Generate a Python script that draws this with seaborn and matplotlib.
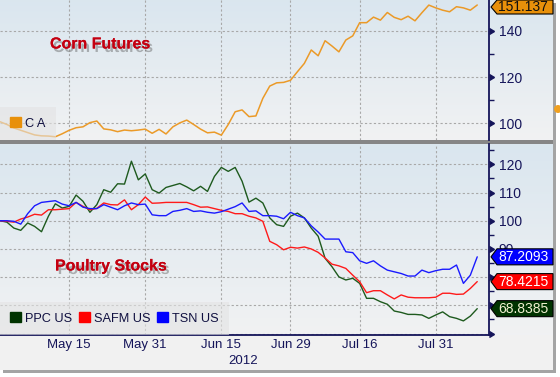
import numpy as np
import pandas as pd
import seaborn as sns
import matplotlib.pyplot as plt
import matplotlib.transforms as mtransforms
from matplotlib.patches import Rectangle, Polygon, Patch, Ellipse
from matplotlib import patheffects

# trading days, May 1 - Aug 8 2012
dates = pd.bdate_range('2012-05-01', '2012-08-08', freq='C',
                       holidays=['2012-05-28', '2012-07-04'])

corn = [100.7, 99.5, 98.0, 97.0, 96.0, 95.0, 94.6, 94.5, 94.2, 95.5,
        97.0, 98.1, 98.5, 100.3, 101.0, 97.6, 97.2, 96.4, 97.1, 96.8,
        97.1, 97.5, 95.7, 97.4, 95.4, 98.5, 100.2, 101.4, 99.5, 97.5,
        95.9, 96.2, 94.9, 99.5, 105.0, 105.8, 102.9, 103.2, 110.8, 116.1,
        117.5, 117.7, 118.6, 122.3, 125.9, 131.7, 129.2, 135.7, 133.4, 130.9,
        136.0, 137.8, 143.5, 143.5, 145.9, 144.6, 147.9, 145.8, 144.8, 146.3,
        144.3, 147.8, 151.1, 149.9, 148.9, 148.2, 150.4, 149.9, 148.9, 151.137]

ppc = [100.0, 99.5, 97.4, 96.6, 99.2, 98.0, 96.1, 101.6, 106.0, 104.5,
       105.1, 109.1, 106.9, 103.0, 105.7, 111.0, 110.1, 113.1, 113.0, 121.1,
       114.5, 116.6, 111.0, 109.8, 111.8, 112.5, 113.2, 112.0, 110.6, 112.2,
       110.4, 115.7, 118.9, 117.5, 118.9, 114.0, 106.6, 108.0, 106.3, 101.0,
       98.6, 98.0, 101.6, 102.7, 101.0, 97.4, 94.5, 86.7, 83.7, 80.1,
       79.0, 79.6, 77.8, 72.5, 72.5, 71.3, 70.4, 68.0, 67.5, 66.8,
       66.8, 66.6, 65.4, 66.6, 67.7, 66.0, 65.4, 64.5, 66.2, 68.8385]

safm = [100.0, 99.8, 99.5, 100.6, 101.3, 102.3, 102.0, 103.9, 103.9, 104.1,
        104.3, 106.5, 105.1, 103.9, 104.4, 106.3, 105.7, 105.6, 107.4, 103.9,
        105.7, 108.4, 106.2, 106.3, 106.5, 106.5, 106.5, 106.5, 105.7, 104.8,
        104.9, 104.3, 103.7, 103.3, 102.5, 102.5, 101.6, 101.0, 99.8, 92.7,
        91.5, 89.7, 90.6, 90.3, 90.7, 90.0, 88.8, 86.8, 84.6, 84.0,
        83.1, 80.7, 78.4, 74.5, 75.2, 75.2, 73.7, 72.3, 73.7, 72.9,
        72.7, 72.7, 72.7, 72.9, 74.3, 74.3, 73.9, 74.0, 76.0, 78.4215]

tsn = [100.0, 100.0, 99.8, 98.8, 102.5, 105.3, 106.5, 106.8, 107.1, 105.9,
       105.3, 106.5, 104.8, 104.3, 104.3, 105.7, 104.8, 103.9, 105.3, 106.3,
       105.7, 105.9, 102.1, 101.8, 101.8, 103.3, 103.7, 104.3, 103.3, 103.5,
       103.0, 102.7, 103.2, 104.1, 105.0, 106.3, 103.3, 103.5, 101.8, 101.8,
       101.6, 100.7, 103.0, 101.8, 101.0, 98.2, 96.0, 93.5, 93.5, 93.5,
       89.0, 88.7, 85.8, 84.9, 85.8, 84.0, 82.5, 81.9, 81.3, 80.4,
       80.4, 82.5, 81.6, 82.3, 82.8, 82.8, 84.3, 77.8, 80.7, 87.2093]

tickers = ['PPC US', 'SAFM US', 'TSN US']
label_dates = ['2012-05-15', '2012-05-31', '2012-06-15', '2012-06-29',
               '2012-07-16', '2012-07-31']
label_text = ['May 15', 'May 31', 'Jun 15', 'Jun 29', 'Jul 16', 'Jul 31']

colors = {'PPC US': '#1e5a1e', 'SAFM US': '#ff1a1a', 'TSN US': '#1a1aff'}
tag_colors = {'PPC US': '#003300', 'SAFM US': '#ff0000', 'TSN US': '#0000ff'}
navy = '#15155a'
grid_kw = dict(color='#a8a8a8', linestyle=(0, (2, 2)), linewidth=0.8)

sns.set_style('white')
plt.rcParams['font.family'] = ['Liberation Sans', 'DejaVu Sans']

pos = np.arange(len(dates))
label_pos = [dates.get_loc(pd.Timestamp(d)) for d in label_dates]
tick_pos = [4, 15, 27, 37, 47, 57, 68.8]

W, H = 560, 377
fig = plt.figure(figsize=(W / 100, H / 100), dpi=100, facecolor='white')


def px_rect(x0, y0, x1, y1):
    return [x0 / W, 1 - y1 / H, (x1 - x0) / W, (y1 - y0) / H]


# frame + shadow
fig.add_artist(Rectangle((3 / W, 1 - 373 / H), 553 / W, 370 / H, transform=fig.transFigure,
                         facecolor='#a4a4a4', edgecolor='none', zorder=-3))
fig.add_artist(Rectangle((0, 1 - 370 / H), 553 / W, 370 / H, transform=fig.transFigure,
                         facecolor='#f1f1f1', edgecolor='none', zorder=-2.5))

# gradient backgrounds
grad = np.linspace(0, 1, 100)[:, None, None]
c_top = np.array([0.855, 0.902, 0.937])
c_bot = np.array([0.945, 0.949, 0.953])
img = c_top * (1 - grad) + c_bot * grad
for r in [px_rect(0, 0, 553, 140), px_rect(0, 144, 553, 335)]:
    bg = fig.add_axes(r)
    bg.imshow(img, aspect='auto', extent=[0, 1, 0, 1])
    bg.set_axis_off()
    bg.set_zorder(-2)
fig.add_artist(Rectangle((0, 1 - 144 / H), 553 / W, 4 / H, transform=fig.transFigure,
                         facecolor='#868686', edgecolor='none', zorder=-1))

ax1 = fig.add_axes(px_rect(0, 0, 489, 140))
ax2 = fig.add_axes(px_rect(0, 144, 489, 335))

corn_df = pd.DataFrame({'pos': pos, 'C A': corn})
sns.lineplot(data=corn_df, x='pos', y='C A', color='#eb9a28', linewidth=1.1, ax=ax1)

stocks = pd.DataFrame({'pos': np.tile(pos, 3),
                       'value': ppc + safm + tsn,
                       'ticker': np.repeat(tickers, len(pos))})
sns.lineplot(data=stocks, x='pos', y='value', hue='ticker', palette=colors,
             linewidth=1.0, ax=ax2, legend=False)

ax1.set_ylim(92.8, 153.3)
ax2.set_ylim(59.5, 127.2)
ax1.set_yticks([100, 120, 140])
ax1.set_yticks([110, 130], minor=True)
ax2.set_yticks(range(60, 121, 10), ['', '', '', '90', '100', '110', '120'])
ax2.set_yticks(range(65, 126, 10), minor=True)

for ax in (ax1, ax2):
    ax.set_facecolor('none')
    ax.set_xlim(0, 70.7)
    ax.set_xlabel('')
    ax.set_ylabel('')
    for s in ['top', 'left', 'bottom']:
        ax.spines[s].set_visible(False)
    ax.spines['right'].set_color(navy)
    ax.spines['right'].set_linewidth(1.3)
    ax.yaxis.tick_right()
    ax.tick_params(axis='y', which='major', length=0, pad=7, labelsize=10, labelcolor=navy)
    ax.tick_params(axis='y', which='minor', length=3.5, width=1, color=navy)
    ax.set_xticks(tick_pos, [])
    ax.set_xticks(label_pos, label_text, minor=True)
    ax.grid(axis='y', which='major', **grid_kw)
    ax.grid(axis='x', which='minor', **grid_kw)
    ax.grid(axis='x', which='major', visible=False)
    # arrow-shaped major ticks
    tr = mtransforms.blended_transform_factory(ax.transAxes, ax.transData)
    yt = [t for t in ax.get_yticks() if ax.get_ylim()[0] <= t <= ax.get_ylim()[1]]
    ax.plot(np.ones(len(yt)), yt, ls='none', marker=9, ms=5, color=navy,
            transform=tr, clip_on=False)

ax1.tick_params(axis='x', which='both', length=0, labelbottom=False)
ax2.spines['bottom'].set_visible(True)
ax2.spines['bottom'].set_color(navy)
ax2.spines['bottom'].set_linewidth(1.3)
ax2.tick_params(axis='x', which='major', length=4, width=1, color=navy, direction='out')
ax2.tick_params(axis='x', which='minor', length=0, pad=3, labelsize=9.5, labelcolor=navy)

leg_kw = dict(loc='lower left', borderaxespad=0, frameon=True, fancybox=False,
              facecolor='#e3e3e3', edgecolor='none', framealpha=0.6,
              handlelength=0.85, handleheight=0.85, fontsize=9.2, borderpad=0.8,
              handletextpad=0.3, labelcolor='#101040')
ax1.legend(handles=[Patch(color='#e8900a', label='C A')], **leg_kw)
ax2.legend(handles=[Patch(color=tag_colors[t], label=t) for t in tickers],
           ncol=3, columnspacing=0.55, **leg_kw)

shadow = [patheffects.withSimplePatchShadow(offset=(2, -2.5), shadow_rgbFace='#606060', alpha=0.45),
          patheffects.Normal()]
fig.text(50 / W, 1 - 44 / H, 'Corn Futures', ha='left', va='center', fontsize=11.5,
         fontweight='bold', color='#c40010', path_effects=shadow)
fig.text(55 / W, 1 - 266 / H, 'Poultry Stocks', ha='left', va='center', fontsize=11.5,
         fontweight='bold', color='#c40010', path_effects=shadow)
fig.text(243 / W, 1 - 361 / H, '2012', ha='center', va='center', fontsize=9.5, color=navy)

# last value tags
def tag(ax, yval, face, tcolor, text):
    yc = ax.transData.transform((0, yval))[1]
    yc = min(yc, H - 7)
    hh = 8 if yc < H - 8 else 7
    pts = [(491, yc), (497, yc + hh), (553, yc + hh), (553, yc - hh), (497, yc - hh)]
    fig.add_artist(Polygon([(x / W, y / H) for x, y in pts], closed=True,
                           transform=fig.transFigure, facecolor=face,
                           edgecolor='black', linewidth=0.8, zorder=5))
    fig.text(498 / W, yc / H, text, ha='left', va='center', fontsize=10,
             color=tcolor, zorder=6)


tag(ax1, corn[-1], '#e8900a', '#101010', f'{corn[-1]:.3f}')
tag(ax2, tsn[-1], tag_colors['TSN US'], 'white', f'{tsn[-1]:.4f}')
tag(ax2, safm[-1], tag_colors['SAFM US'], 'white', f'{safm[-1]:.4f}')
tag(ax2, ppc[-1], tag_colors['PPC US'], '#f0f0d0', f'{ppc[-1]:.4f}')

fig.add_artist(Ellipse((558 / W, 1 - 109 / H), 8 / W, 8 / H, transform=fig.transFigure,
                       facecolor='#f0a020', edgecolor='none', zorder=4))

plt.savefig('out.png', dpi=100)
